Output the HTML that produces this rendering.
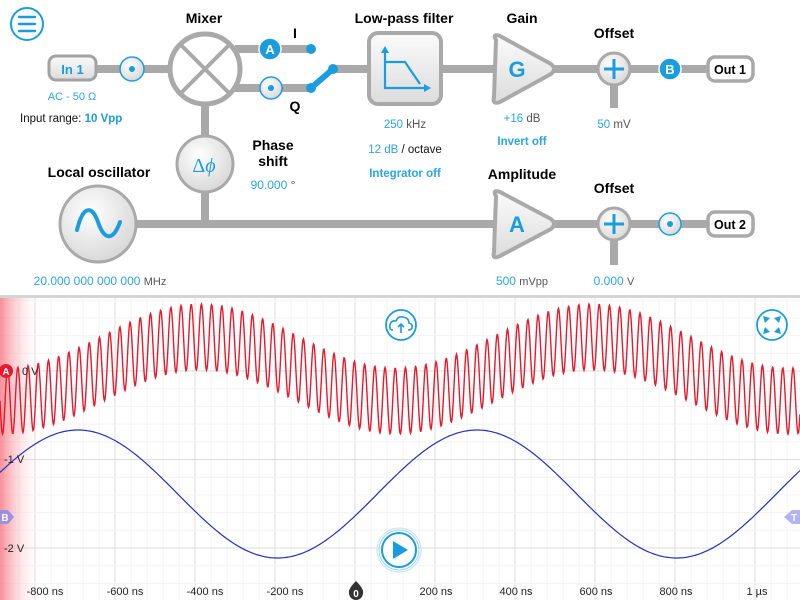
<!DOCTYPE html>
<html><head><meta charset="utf-8">
<style>
body{margin:0;width:800px;height:600px;overflow:hidden;background:#fff;font-family:"Liberation Sans",sans-serif}
svg{display:block}
</style></head><body>
<svg id="s" width="800" height="600" viewBox="0 0 800 600" xmlns="http://www.w3.org/2000/svg" font-family="Liberation Sans, sans-serif">
<defs>
<linearGradient id="g1" x1="0" y1="0" x2="0" y2="1"><stop offset="0" stop-color="#fbfbfb"/><stop offset="1" stop-color="#dcdcdc"/></linearGradient>
<radialGradient id="g2" cx="0.4" cy="0.35" r="0.7"><stop offset="0" stop-color="#ffffff"/><stop offset="1" stop-color="#d6d6d6"/></radialGradient>
<linearGradient id="lg" x1="0" y1="0" x2="1" y2="0"><stop offset="0" stop-color="#f56a78" stop-opacity="0.75"/><stop offset="1" stop-color="#ffffff" stop-opacity="0"/></linearGradient>
</defs>
<g stroke="#a9a9a9" stroke-width="8" fill="none">
<line x1="96" y1="69" x2="170" y2="69"/>
<line x1="235" y1="49" x2="311" y2="49"/>
<line x1="235" y1="88" x2="311" y2="88"/>
<line x1="333" y1="69" x2="370" y2="69"/>
<line x1="440" y1="69" x2="494" y2="69"/>
<line x1="552" y1="69" x2="707" y2="69"/>
<line x1="614" y1="80" x2="614" y2="108"/>
<line x1="205" y1="100" x2="205" y2="140"/>
<line x1="205" y1="188" x2="205" y2="224"/>
<line x1="130" y1="224" x2="494" y2="224"/>
<line x1="552" y1="224" x2="707" y2="224"/>
<line x1="614" y1="235" x2="614" y2="265"/>
</g>
<circle cx="27" cy="24" r="16" fill="#fff" stroke="#1a9de0" stroke-width="2"/>
<g stroke="#1a9de0" stroke-width="2.4" stroke-linecap="round"><line x1="19" y1="17" x2="35" y2="17"/><line x1="19" y1="24" x2="35" y2="24"/><line x1="19" y1="31" x2="35" y2="31"/></g>
<rect x="49" y="56" width="47" height="24" rx="7" fill="url(#g1)" stroke="#a3a3a3" stroke-width="3"/>
<text x="72.5" y="74" font-size="13" font-weight="bold" fill="#1a9de0" text-anchor="middle">In 1</text>
<text x="72" y="100" font-size="11" fill="#2ba6e6" text-anchor="middle">AC - 50 Ω</text>
<text x="20" y="122" font-size="11.5" fill="#111">Input range: <tspan fill="#1a9de0" font-weight="bold">10 Vpp</tspan></text>
<circle cx="132" cy="69" r="12" fill="url(#g2)" stroke="#1a9de0" stroke-width="1.5"/><circle cx="132" cy="69" r="3" fill="#1a9de0"/>
<circle cx="271" cy="88" r="11" fill="url(#g2)" stroke="#1a9de0" stroke-width="1.5"/><circle cx="271" cy="88" r="3" fill="#1a9de0"/>
<circle cx="670" cy="224" r="11" fill="url(#g2)" stroke="#1a9de0" stroke-width="1.5"/><circle cx="670" cy="224" r="3" fill="#1a9de0"/>
<circle cx="205" cy="69" r="35" fill="#fff" stroke="#a9a9a9" stroke-width="5"/>
<g stroke="#a9a9a9" stroke-width="4"><line x1="181" y1="45" x2="229" y2="93"/><line x1="229" y1="45" x2="181" y2="93"/></g>
<text x="204" y="23" font-size="14" font-weight="bold" text-anchor="middle">Mixer</text>
<circle cx="270" cy="49" r="11" fill="#1a9de0" stroke="#fff" stroke-width="1.5"/><text x="270" y="54" font-size="13" font-weight="bold" fill="#fff" text-anchor="middle">A</text>
<circle cx="311" cy="49" r="5" fill="#1a9de0"/>
<circle cx="311" cy="88" r="5" fill="#1a9de0"/>
<circle cx="333" cy="69" r="5" fill="#1a9de0"/>
<line x1="311" y1="88" x2="333" y2="69" stroke="#1a9de0" stroke-width="6" stroke-linecap="round"/>
<text x="295" y="38" font-size="14" font-weight="bold" text-anchor="middle">I</text>
<text x="295" y="111" font-size="14" font-weight="bold" text-anchor="middle">Q</text>
<rect x="369" y="33" width="72" height="71" rx="9" fill="url(#g1)" stroke="#a9a9a9" stroke-width="4"/>
<g stroke="#1a9de0" stroke-width="2.2" fill="none"><polyline points="385,52 385,88 428,88"/><polyline points="385,62 405,62 420,84"/></g>
<polygon points="385,46 381,53 389,53" fill="#1a9de0"/><polygon points="431,88 424,84 424,92" fill="#1a9de0"/>
<text x="404" y="23" font-size="14" font-weight="bold" text-anchor="middle">Low-pass filter</text>
<text x="405" y="128" font-size="11.5" fill="#2ba6e6" text-anchor="middle">250 <tspan fill="#555">kHz</tspan></text>
<text x="405" y="153" font-size="11.5" fill="#2ba6e6" text-anchor="middle">12 dB <tspan fill="#111">/ octave</tspan></text>
<text x="405" y="177" font-size="11.5" font-weight="bold" fill="#2ba6e6" text-anchor="middle">Integrator off</text>
<path d="M496,40 Q492,33 500,36 L551,64 Q557,69 551,74 L500,102 Q492,105 494,97 Z" fill="url(#g1)" stroke="#a9a9a9" stroke-width="4" stroke-linejoin="round"/>
<text x="517" y="77" font-size="22" font-weight="bold" fill="#1a9de0" text-anchor="middle">G</text>
<text x="522" y="23" font-size="14" font-weight="bold" text-anchor="middle">Gain</text>
<text x="522" y="122" font-size="11.5" fill="#2ba6e6" text-anchor="middle">+16 <tspan fill="#555">dB</tspan></text>
<text x="522" y="145" font-size="11.5" font-weight="bold" fill="#2ba6e6" text-anchor="middle">Invert off</text>
<circle cx="614" cy="69" r="16" fill="url(#g2)" stroke="#a9a9a9" stroke-width="3"/>
<g stroke="#1a9de0" stroke-width="3"><line x1="604" y1="69" x2="624" y2="69"/><line x1="614" y1="59" x2="614" y2="79"/></g>
<text x="614" y="38" font-size="14" font-weight="bold" text-anchor="middle">Offset</text>
<text x="614" y="128" font-size="11.5" fill="#2ba6e6" text-anchor="middle">50 <tspan fill="#555">mV</tspan></text>
<circle cx="670" cy="69" r="11" fill="#1a9de0" stroke="#fff" stroke-width="1.5"/><text x="670" y="74" font-size="13" font-weight="bold" fill="#fff" text-anchor="middle">B</text>
<rect x="708" y="57" width="45" height="24" rx="7" fill="#fff" stroke="#a9a9a9" stroke-width="3.5"/>
<text x="730" y="74" font-size="12.5" font-weight="bold" text-anchor="middle">Out 1</text>
<circle cx="205" cy="164" r="28" fill="url(#g2)" stroke="#a9a9a9" stroke-width="3"/>
<text x="204" y="172" font-size="20" fill="#1a9de0" text-anchor="middle" font-family="Liberation Serif, serif">Δ<tspan font-style="italic">ϕ</tspan></text>
<text x="273" y="150" font-size="14" font-weight="bold" text-anchor="middle">Phase</text>
<text x="273" y="166" font-size="14" font-weight="bold" text-anchor="middle">shift</text>
<text x="273" y="189" font-size="12" fill="#2ba6e6" text-anchor="middle">90.000 <tspan fill="#555">°</tspan></text>
<circle cx="98" cy="224" r="38" fill="url(#g2)" stroke="#a9a9a9" stroke-width="3"/>
<path d="M77,230 C83,205 92,205 98,222 C104,240 113,242 120,222" fill="none" stroke="#1a9de0" stroke-width="4" stroke-linecap="round"/>
<text x="99" y="177" font-size="14" font-weight="bold" text-anchor="middle">Local oscillator</text>
<text x="100" y="285" font-size="12" fill="#2ba6e6" text-anchor="middle">20.000 000 000 000 <tspan fill="#555" font-size="11">MHz</tspan></text>
<path d="M496,196 Q492,189 500,192 L551,219 Q557,224 551,229 L500,256 Q492,260 494,252 Z" fill="url(#g1)" stroke="#a9a9a9" stroke-width="4" stroke-linejoin="round"/>
<text x="517" y="232" font-size="22" font-weight="bold" fill="#1a9de0" text-anchor="middle">A</text>
<text x="522" y="179" font-size="14" font-weight="bold" text-anchor="middle">Amplitude</text>
<text x="522" y="285" font-size="12" fill="#2ba6e6" text-anchor="middle">500 <tspan fill="#555" font-size="11">mVpp</tspan></text>
<circle cx="614" cy="224" r="16" fill="url(#g2)" stroke="#a9a9a9" stroke-width="3"/>
<g stroke="#1a9de0" stroke-width="3"><line x1="604" y1="224" x2="624" y2="224"/><line x1="614" y1="214" x2="614" y2="234"/></g>
<text x="614" y="193" font-size="14" font-weight="bold" text-anchor="middle">Offset</text>
<text x="614" y="285" font-size="12" fill="#2ba6e6" text-anchor="middle">0.000 <tspan fill="#555" font-size="11">V</tspan></text>
<rect x="708" y="212" width="45" height="24" rx="7" fill="#fff" stroke="#a9a9a9" stroke-width="3.5"/>
<text x="730" y="229" font-size="12.5" font-weight="bold" text-anchor="middle">Out 2</text>
<rect x="0" y="295" width="800" height="3" fill="#d4d4d4"/>
<rect x="0" y="298" width="800" height="302" fill="#fff"/>
<g id="grid"></g>
<rect x="0" y="298" width="42" height="302" fill="url(#lg)"/>
<path id="red" fill="none" stroke="#e8192c" stroke-width="1.4"/>
<path id="blue" fill="none" stroke="#2230c8" stroke-width="1.2"/>
<circle cx="6" cy="371" r="7" fill="#e8192c"/><text x="6" y="375" font-size="10" font-weight="bold" fill="#fff" text-anchor="middle">A</text>
<text x="22" y="375" font-size="11" fill="#222">0 V</text>
<text x="4" y="463" font-size="11" fill="#222">-1 V</text>
<text x="4" y="552" font-size="11" fill="#222">-2 V</text>
<path d="M0,510 L8,510 L14,517 L8,524 L0,524 Z" fill="#9c8fe6"/><text x="5" y="521" font-size="10" font-weight="bold" fill="#fff" text-anchor="middle">B</text>
<path d="M800,510 L792,510 L784,517 L792,524 L800,524 Z" fill="#b3b3f5"/><text x="794" y="521" font-size="10" font-weight="bold" fill="#fff" text-anchor="middle">T</text>
<g font-size="11" fill="#222" text-anchor="middle">
<text x="45" y="595">-800 ns</text><text x="125" y="595">-600 ns</text><text x="205" y="595">-400 ns</text><text x="285" y="595">-200 ns</text>
<text x="436" y="595">200 ns</text><text x="516" y="595">400 ns</text><text x="596" y="595">600 ns</text><text x="676" y="595">800 ns</text><text x="757" y="595">1 µs</text>
</g>
<path d="M356,581 Q348,589 349,593 A7,7 0 0 0 363,593 Q364,589 356,581 Z" fill="#333"/>
<text x="356" y="597" font-size="10" font-weight="bold" fill="#fff" text-anchor="middle">0</text>
<circle cx="401" cy="325" r="15" fill="#fff" stroke="#1a9de0" stroke-width="1.8"/>
<path d="M393,330 Q389,330 390,325 Q391,320 396,321 Q398,316 403,317 Q409,318 409,323 Q413,324 412,328 Q411,330 408,330" fill="none" stroke="#1a9de0" stroke-width="1.6"/>
<line x1="401" y1="324" x2="401" y2="333" stroke="#1a9de0" stroke-width="1.6"/><polyline points="398,327 401,324 404,327" fill="none" stroke="#1a9de0" stroke-width="1.6"/>
<circle cx="772" cy="325" r="15" fill="#fff" stroke="#1a9de0" stroke-width="1.8"/>
<g fill="#1a9de0"><polygon points="763,316 770,318 765,323"/><polygon points="781,316 774,318 779,323"/><polygon points="763,334 770,332 765,327"/><polygon points="781,334 774,332 779,327"/></g>
<circle cx="399" cy="550" r="22" fill="none" stroke="#bfe3f7" stroke-width="1"/>
<circle cx="399" cy="550" r="20" fill="none" stroke="#9fd5f3" stroke-width="1"/>
<circle cx="399" cy="550" r="17" fill="#fff" stroke="#1a9de0" stroke-width="2"/>
<polygon points="393,541 393,559 408,550" fill="#1a9de0"/>
</svg>
<script>
(function(){
var g=document.getElementById("grid"),h="";
for(var x=35-16*3;x<800;x+=16){var maj=((x-35)%80+80)%80==0;h+='<line x1="'+x+'" y1="298" x2="'+x+'" y2="600" stroke="'+(maj?'#dcdcdc':'#f3f3f3')+'" stroke-width="1"/>';}
for(var i=-5;i<20;i++){var y=371+i*17.7;if(y<298||y>600)continue;var maj=(i%5==0);h+='<line x1="0" y1="'+y.toFixed(1)+'" x2="800" y2="'+y.toFixed(1)+'" stroke="'+(maj?'#dcdcdc':'#f3f3f3')+'" stroke-width="1"/>';}
g.innerHTML=h;
var r="",b="";
for(var x=0;x<=800;x+=0.5){
 var c=369-32*Math.cos(2*Math.PI*(x-200)/392);
 var y=c+33*Math.sin(2*Math.PI*x/10.2);
 r+=(x==0?"M":"L")+x+","+y.toFixed(1);
}
for(var x=0;x<=800;x+=2){
 var y=494-64*Math.cos(2*Math.PI*(x-78)/399);
 b+=(x==0?"M":"L")+x+","+y.toFixed(1);
}
document.getElementById("red").setAttribute("d",r);
document.getElementById("blue").setAttribute("d",b);
})();
</script>
</body></html>
